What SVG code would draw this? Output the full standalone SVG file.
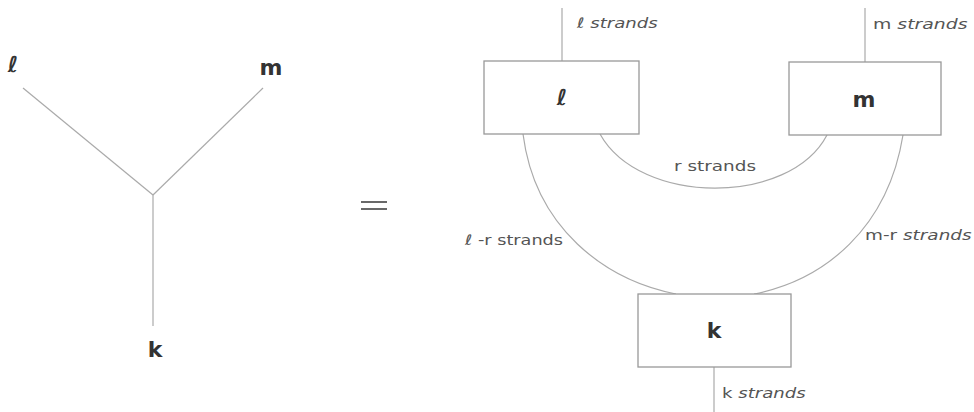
<svg xmlns="http://www.w3.org/2000/svg" width="974" height="412" viewBox="0 0 974 412">
  <style>
    .wire { fill: none; stroke: #aaaaaa; stroke-width: 1.2; }
    .box { fill: #ffffff; stroke: #999999; stroke-width: 1.3; }
    .big { font-family: "DejaVu Sans", sans-serif; font-weight: bold; font-size: 22px; fill: #333333; text-anchor: middle; }
    .lbl { font-family: "DejaVu Sans", sans-serif; font-size: 14.5px; fill: #555555; }
    .it { font-style: italic; }
  </style>
  <rect width="974" height="412" fill="#ffffff"/>

  <!-- trivalent vertex -->
  <g id="vertex">
    <line class="wire" x1="23" y1="88" x2="153" y2="195"/>
    <line class="wire" x1="263" y1="88" x2="153" y2="195"/>
    <line class="wire" x1="153" y1="195" x2="153" y2="326"/>
    <text class="big" x="13" y="72" font-style="italic">ℓ</text>
    <text class="big" x="271" y="75">m</text>
    <text class="big" x="155" y="357">k</text>
  </g>

  <!-- equals sign -->
  <g id="equals" stroke="#444444" stroke-width="1.6">
    <line x1="361" y1="202" x2="387" y2="202"/>
    <line x1="361" y1="209" x2="387" y2="209"/>
  </g>

  <!-- strand connectors -->
  <g id="connectors">
    <line class="wire" x1="562" y1="8" x2="562" y2="61"/>
    <line class="wire" x1="865" y1="8" x2="865" y2="62"/>
    <line class="wire" x1="714" y1="367" x2="714" y2="412"/>
    <path class="wire" d="M600,134 C640,206 790,206 827,135"/>
    <path class="wire" d="M523,134 C535,228 605,280 676,294"/>
    <path class="wire" d="M903,135 C888,228 825,280 754,294"/>
  </g>

  <g id="node-l">
    <rect class="box" x="484" y="61" width="155" height="73"/>
    <text class="big" x="562" y="105" font-style="italic">ℓ</text>
  </g>
  <g id="node-m">
    <rect class="box" x="789" y="62" width="152" height="73"/>
    <text class="big" x="864" y="107">m</text>
  </g>
  <g id="node-k">
    <rect class="box" x="638" y="294" width="153" height="73"/>
    <text class="big" x="714" y="338">k</text>
  </g>

  <!-- strand labels, set slightly wide -->
  <g id="labels">
    <text class="lbl it" transform="translate(577,28) scale(1.25,1)">ℓ strands</text>
    <text class="lbl" transform="translate(873,29) scale(1.3,1)">m <tspan class="it">strands</tspan></text>
    <text class="lbl" transform="translate(674,171) scale(1.27,1)">r strands</text>
    <text class="lbl" transform="translate(465,245) scale(1.22,1)"><tspan class="it">ℓ</tspan> -r strands</text>
    <text class="lbl" transform="translate(865,240) scale(1.27,1)">m-r <tspan class="it">strands</tspan></text>
    <text class="lbl" transform="translate(722,398) scale(1.25,1)">k <tspan class="it">strands</tspan></text>
  </g>
</svg>
